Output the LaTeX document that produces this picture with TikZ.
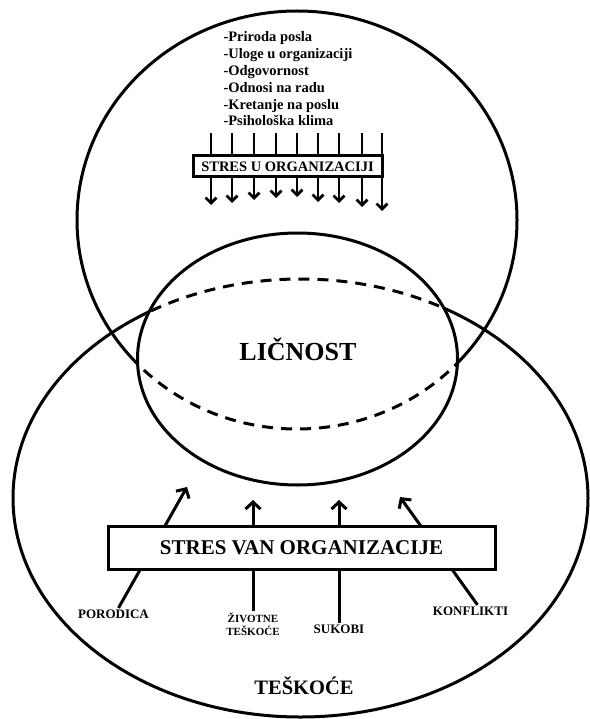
\documentclass[tikz,border=0pt]{standalone}
\usepackage{fontspec}
\setmainfont{Liberation Serif}
\usepackage{tikz}
\usetikzlibrary{arrows.meta,positioning,calc}
\pgfdeclarelayer{bg}
\pgfsetlayers{bg,main}

\begin{document}
\begin{tikzpicture}[
			x = 1pt, y = -1pt,
			line width = 3pt,
			every node/.style = {inner sep = 0},
			okvir/.style = {draw, fill = white, line width = 3pt},
			dole/.style = {line width = 2.8pt, -{Straight Barb[length = 5.5pt, width = 11pt]}},
			gore/.style = {line width = 3pt, -{Straight Barb[length = 7pt, width = 15pt]}},
			crtkano/.style = {dash pattern = on 11pt off 8pt}]

			\useasboundingbox (0,0) rectangle (589,719);

			\coordinate (org) at (297,220);
			\coordinate (van) at (300.5,498);
			\coordinate (lic) at (297.5,359);

			% ono sto je iza licnosti ide isprekidano
			\begin{scope}
				\clip (lic) ellipse [x radius = 160, y radius = 126];
				\draw[crtkano] (org) ellipse [x radius = 220, y radius = 209];
				\draw[crtkano] (van) ellipse [x radius = 287.5, y radius = 219];
			\end{scope}
			\begin{scope}[even odd rule]
				\clip (-5,-5) rectangle (600,730) (lic) ellipse [x radius = 160, y radius = 126];
				\draw (org) ellipse [x radius = 220, y radius = 209];
				\draw (van) ellipse [x radius = 287.5, y radius = 219];
			\end{scope}
			\draw (lic) ellipse [x radius = 160, y radius = 126];

			\node[anchor = base, font = \bfseries\fontsize{26}{30}\selectfont] (licnost) at (298,360) {LIČNOST};

			\node[anchor = base west, font = \bfseries\fontsize{14.5}{17}\selectfont] (n1) at (222,42) {-Priroda posla};
			\node[anchor = base west, font = \bfseries\fontsize{14.5}{17}\selectfont] (n2) at (222,58.8) {-Uloge u organizaciji};
			\node[anchor = base west, font = \bfseries\fontsize{14.5}{17}\selectfont] (n3) at (222,75.6) {-Odgovornost};
			\node[anchor = base west, font = \bfseries\fontsize{14.5}{17}\selectfont] (n4) at (222,92.4) {-Odnosi na radu};
			\node[anchor = base west, font = \bfseries\fontsize{14.5}{17}\selectfont] (n5) at (222,109.2) {-Kretanje na poslu};
			\node[anchor = base west, font = \bfseries\fontsize{14.5}{17}\selectfont] (n6) at (222,126) {-Psihološka klima};

			\node[okvir, minimum width = 189, minimum height = 21, font = \bfseries\fontsize{14.5}{17}\selectfont] (stresU) at (287.5,166.5) {STRES U ORGANIZACIJI};
			\node[okvir, minimum width = 387, minimum height = 43, font = \bfseries\fontsize{21}{24}\selectfont] (stresVan) at (301.5,547.5) {STRES VAN ORGANIZACIJE};

			\node[anchor = base, font = \bfseries\fontsize{13}{15}\selectfont] (porodica) at (113.5,618) {PORODICA};
			\node[anchor = north, align = center, font = \bfseries\fontsize{11}{13}\selectfont] (zivotne) at (253,611) {ŽIVOTNE\\TEŠKOĆE};
			\node[anchor = base, font = \bfseries\fontsize{13}{15}\selectfont] (sukobi) at (339,633) {SUKOBI};
			\node[anchor = base, font = \bfseries\fontsize{13}{15}\selectfont] (konflikti) at (470.5,615) {KONFLIKTI};
			\node[anchor = base, font = \bfseries\fontsize{20.5}{24}\selectfont] (teskoce) at (304,694) {TEŠKOĆE};

			\begin{pgfonlayer}{bg}
				\foreach \x/\y [count=\i] in {211/205, 232/203, 254/200, 276/198, 297/197, 318/202, 339/203, 362/207, 382/211}{
					\coordinate (g\i) at (\x,133);
					\coordinate (d\i) at (\x,\y);
					\draw[dole] (g\i) -- (d\i);
				}

				\coordinate (v1) at (187,487);
				\coordinate (v2) at (253,500);
				\coordinate (v3) at (339,500);
				\coordinate (v4) at (400,497);
				\draw[gore] ($(porodica.north)+(5,0)$) -- (v1);
				\draw[gore] (zivotne.north) -- (v2);
				\draw[gore] (sukobi.north) -- (v3);
				\draw[gore] ($(konflikti.north)+(7,0)$) -- (v4);
			\end{pgfonlayer}

		\end{tikzpicture}
\end{document}
